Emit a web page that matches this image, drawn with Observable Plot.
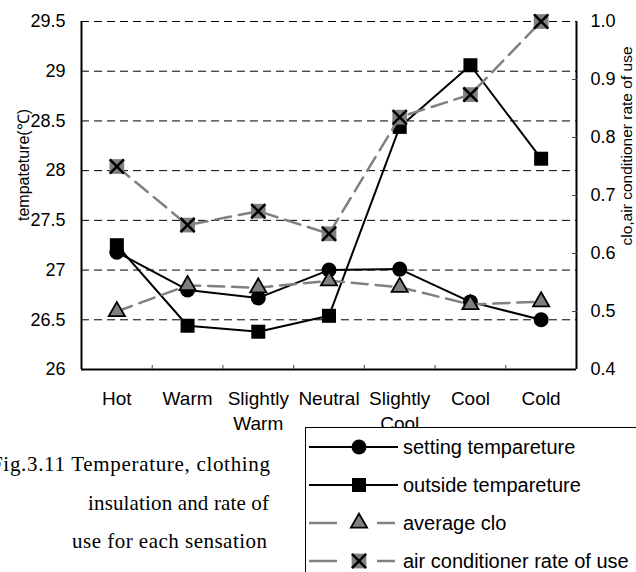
<!DOCTYPE html>
<html><head><meta charset="utf-8">
<script src="https://cdn.jsdelivr.net/npm/d3@7"></script>
<script src="https://cdn.jsdelivr.net/npm/@observablehq/plot@0.6"></script>
<style>
html,body{margin:0;padding:0;background:#fff;}
body{width:636px;height:572px;overflow:hidden;}
#chart svg,#bottom{display:block;}
</style></head><body>
<div id="chart"></div>
<svg id="bottom" width="636" height="146"></svg>
<script>
// ---- data ----
const sensations = ["Hot","Warm","Slightly\nWarm","Neutral","Slightly\nCool","Cool","Cold"];
const settingTemp = [27.18, 26.80, 26.72, 27.00, 27.01, 26.68, 26.50];
const outsideTemp = [27.25, 26.44, 26.38, 26.54, 28.44, 29.06, 28.12];
const averageClo  = [0.500, 0.545, 0.541, 0.553, 0.542, 0.512, 0.517];
const acRate      = [0.750, 0.649, 0.673, 0.634, 0.835, 0.874, 1.000];
const leftTicks  = [26, 26.5, 27, 27.5, 28, 28.5, 29, 29.5];
const rightTicks = [0.4, 0.5, 0.6, 0.7, 0.8, 0.9, 1.0];
const leftLabel  = "tempateture(℃)";
const rightLabel = "clo,air conditioner rate of use";
const legendLabels = ["setting tempareture","outside tempareture","average clo","air conditioner rate of use"];
const captionLines = ["Fig.3.11 Temperature, clothing","insulation and rate of","use for each sensation"];

// ---- scales helpers ----
const leftDomain = [leftTicks[0], leftTicks[leftTicks.length-1]];
const rightDomain = [rightTicks[0], rightTicks[rightTicks.length-1]];
const toLeft = v => leftDomain[0] + (v - rightDomain[0]) * (leftDomain[1]-leftDomain[0]) / (rightDomain[1]-rightDomain[0]);
const toRight = y => rightDomain[0] + (y - leftDomain[0]) * (rightDomain[1]-rightDomain[0]) / (leftDomain[1]-leftDomain[0]);
const rows = (vals, right) => vals.map((v,i) => ({i, y: right ? toLeft(v) : v}));
const n = sensations.length;

const SANS = "'Liberation Sans', Arial, sans-serif";
const GRAY = "#808080";

const chart = Plot.plot({
  width: 636, height: 426,
  marginTop: 21, marginBottom: 57, marginLeft: 81, marginRight: 60,
  style: {fontFamily: SANS, fontSize: "18px", color: "#000", background: "#fff", overflow: "visible"},
  x: {type: "linear", domain: [-0.5, n - 0.5]},
  y: {domain: leftDomain},
  marks: [
    Plot.gridY(leftTicks.slice(1), {stroke: "#000", strokeOpacity: 1, strokeWidth: 1, strokeDasharray: "8,5"}),
    Plot.ruleX([-0.5, n - 0.5], {stroke: "#000", strokeWidth: 2}),
    Plot.ruleY([leftDomain[0]], {stroke: "#000", strokeWidth: 2}),
    Plot.axisY({ticks: leftTicks, tickSize: 0, tickPadding: 16, tickFormat: d => String(d), label: null, fontSize: 18}),
    Plot.axisY({anchor: "right", ticks: rightTicks.slice(1, -1).map(toLeft), tickSize: -5, fill: "none", stroke: "#444", label: null}),
    Plot.axisY({anchor: "right", ticks: rightTicks.map(toLeft), tickSize: 0, tickPadding: 14, tickFormat: d => toRight(d).toFixed(1), label: null, fontSize: 18}),
    Plot.axisX({ticks: d3.range(0.5, n - 1, 1), tickSize: -4, fill: "none", stroke: "#444", label: null}),
    Plot.axisX({ticks: d3.range(n), tickSize: 0, tickPadding: 18, tickFormat: i => sensations[i], lineHeight: 1.32, fontSize: 19, label: null}),

    Plot.line(rows(settingTemp), {x: "i", y: "y", stroke: "#000", strokeWidth: 2}),
    Plot.dot(rows(settingTemp), {x: "i", y: "y", r: 7.5, symbol: "circle", fill: "#000", stroke: "none"}),

    Plot.line(rows(outsideTemp), {x: "i", y: "y", stroke: "#000", strokeWidth: 2}),
    Plot.dot(rows(outsideTemp), {x: "i", y: "y", r: 7.9, symbol: "square", fill: "#000", stroke: "none"}),

    Plot.line(rows(averageClo, true), {x: "i", y: "y", stroke: GRAY, strokeWidth: 2.5, strokeDasharray: "16,8"}),
    Plot.dot(rows(averageClo, true), {x: "i", y: "y", r: 6, symbol: "triangle", fill: GRAY, stroke: "#000", strokeWidth: 1.8}),

    Plot.line(rows(acRate, true), {x: "i", y: "y", stroke: GRAY, strokeWidth: 2.5, strokeDasharray: "16,8"}),
    Plot.dot(rows(acRate, true), {x: "i", y: "y", r: 8.3, symbol: "square", fill: GRAY, stroke: "none"}),
    Plot.dot(rows(acRate, true), {x: "i", y: "y", r: 6.5, symbol: "times", stroke: "#000", strokeWidth: 2.5})
  ]
});
document.getElementById("chart").append(chart);

const cs = d3.select(chart);
cs.append("text")
  .attr("transform", "translate(23,165) rotate(-90)")
  .attr("text-anchor", "middle").attr("dominant-baseline", "central")
  .attr("fill", "#000").style("font", `16px ${SANS}`).text(leftLabel);
cs.append("text")
  .attr("transform", "translate(626,146) rotate(-90)")
  .attr("text-anchor", "middle").attr("dominant-baseline", "central")
  .attr("fill", "#000").style("font", `15.5px ${SANS}`).text(rightLabel);

// ---- bottom: caption and legend ----
const b = d3.select("#bottom");
const capX = [[-9, 270], [88, 269], [72, 267]];
const capY = [45, 84, 122];
captionLines.forEach((t, k) => {
  b.append("text").attr("x", capX[k][0]).attr("y", capY[k])
    .attr("textLength", capX[k][1] - capX[k][0]).attr("lengthAdjust", "spacing")
    .attr("fill", "#000").style("font", "21px 'Liberation Serif', 'Times New Roman', serif").text(t);
});

b.append("rect").attr("x", 305.5).attr("y", 1.5).attr("width", 400).attr("height", 300)
  .attr("fill", "#fff").attr("stroke", "#000").attr("stroke-width", 1);

const legY = [21, 59, 97, 135];
const sym = (type, r) => d3.symbol(type, Math.PI * r * r)();
legendLabels.forEach((t, k) => {
  const y = legY[k];
  const g = b.append("g");
  if (k < 2) {
    g.append("line").attr("x1", 309).attr("x2", 398).attr("y1", y).attr("y2", y).attr("stroke", "#000").attr("stroke-width", 2);
  } else {
    [[309, 337], [377, 395]].forEach(([a, c]) =>
      g.append("line").attr("x1", a).attr("x2", c).attr("y1", y).attr("y2", y).attr("stroke", GRAY).attr("stroke-width", 2.5));
  }
  const m = g.append("g").attr("transform", `translate(359,${y})`);
  if (k === 0) m.append("path").attr("d", sym(d3.symbolCircle, 7.5)).attr("fill", "#000");
  if (k === 1) m.append("path").attr("d", sym(d3.symbolSquare, 7.9)).attr("fill", "#000");
  if (k === 2) m.append("path").attr("d", sym(d3.symbolTriangle, 6)).attr("fill", GRAY).attr("stroke", "#000").attr("stroke-width", 1.8);
  if (k === 3) {
    m.append("path").attr("d", sym(d3.symbolSquare, 8.3)).attr("fill", GRAY);
    m.append("path").attr("d", sym(d3.symbolTimes, 6.5)).attr("fill", "none").attr("stroke", "#000").attr("stroke-width", 2.5);
  }
  g.append("text").attr("x", 403).attr("y", y).attr("dominant-baseline", "central")
    .attr("fill", "#000").style("font", `20px ${SANS}`).text(t);
});
</script>
</body></html>
